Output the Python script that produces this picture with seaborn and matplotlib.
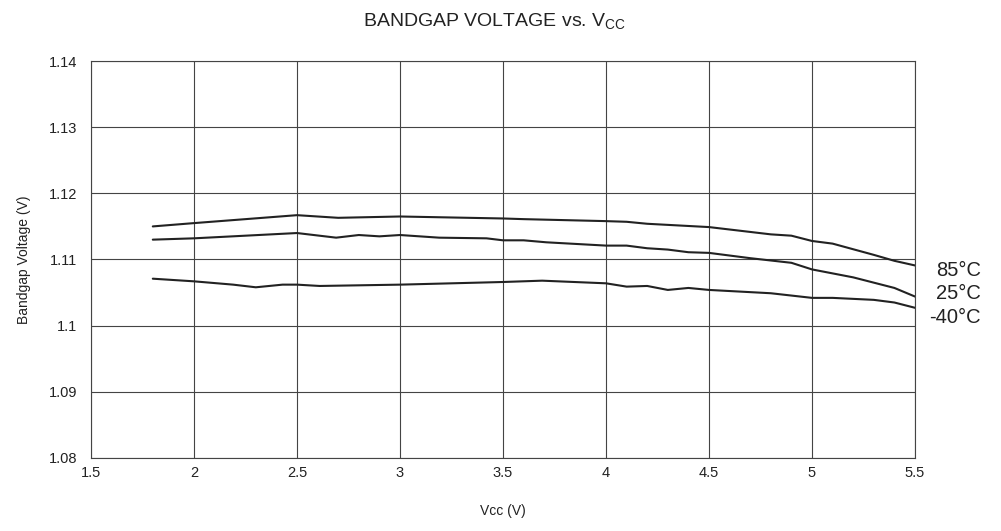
import matplotlib
matplotlib.use('Agg')
import matplotlib.pyplot as plt
import seaborn as sns
import pandas as pd

# readings taken off the reference chart
vcc_85 = [1.8, 2.0, 2.5, 2.7, 3.0, 3.5, 3.6, 4.0, 4.1, 4.2, 4.5, 4.8, 4.9, 5.0, 5.1, 5.3, 5.4, 5.5]
v_85 = [1.1150, 1.1155, 1.1167, 1.1163, 1.1165, 1.1162, 1.1161, 1.1158, 1.1157, 1.1154,
        1.1149, 1.1138, 1.1136, 1.1128, 1.1124, 1.1107, 1.1098, 1.1091]

vcc_25 = [1.8, 2.0, 2.5, 2.69, 2.8, 2.9, 3.0, 3.19, 3.42, 3.5, 3.6, 3.71, 4.0, 4.1, 4.2,
          4.3, 4.4, 4.5, 4.7, 4.9, 5.0, 5.2, 5.4, 5.5]
v_25 = [1.1130, 1.1132, 1.1140, 1.1133, 1.1137, 1.1135, 1.1137, 1.1133, 1.1132, 1.1129,
        1.1129, 1.1126, 1.1121, 1.1121, 1.1117, 1.1115, 1.1111, 1.1110, 1.1102, 1.1095,
        1.1085, 1.1073, 1.1057, 1.1044]

vcc_m40 = [1.8, 2.0, 2.19, 2.3, 2.43, 2.5, 2.61, 3.0, 3.5, 3.69, 4.0, 4.1, 4.2, 4.3, 4.4,
           4.5, 4.8, 5.0, 5.1, 5.3, 5.4, 5.5]
v_m40 = [1.1071, 1.1067, 1.1062, 1.1058, 1.1062, 1.1062, 1.1060, 1.1062, 1.1066, 1.1068,
         1.1064, 1.1059, 1.1060, 1.1054, 1.1057, 1.1054, 1.1049, 1.1042, 1.1042, 1.1039,
         1.1035, 1.1027]

temps = ['85°C', '25°C', '-40°C']
x_ticks = [1.5, 2, 2.5, 3, 3.5, 4, 4.5, 5, 5.5]
y_ticks = [1.08, 1.09, 1.1, 1.11, 1.12, 1.13, 1.14]
y_labels = ['1.08', '1.09', '1.1', '1.11', '1.12', '1.13', '1.14']

df = pd.concat([
    pd.DataFrame({'vcc': vcc_85, 'v': v_85, 'temp': temps[0]}),
    pd.DataFrame({'vcc': vcc_25, 'v': v_25, 'temp': temps[1]}),
    pd.DataFrame({'vcc': vcc_m40, 'v': v_m40, 'temp': temps[2]}),
])

sns.set_style('white')
plt.rcParams['font.family'] = ['Liberation Sans', 'DejaVu Sans']
plt.rcParams['mathtext.fontset'] = 'custom'
plt.rcParams['mathtext.rm'] = 'Liberation Sans'

fig = plt.figure(figsize=(10.01, 5.31), dpi=100)
ax = fig.add_axes([0.0909, 0.1375, 0.8232, 0.7476])

sns.lineplot(data=df, x='vcc', y='v', units='temp', estimator=None,
             color='#222222', linewidth=1.5, sort=False, ax=ax, legend=False)

ax.set_xlim(1.5, 5.5)
ax.set_ylim(1.08, 1.14)
ax.set_xticks(x_ticks)
ax.set_xticklabels([f'{t:g}' for t in x_ticks])
ax.set_yticks(y_ticks)
ax.set_yticklabels(y_labels)
ax.grid(True, color='#444444', linewidth=0.8)
for s in ax.spines.values():
    s.set_color('#444444')
    s.set_linewidth(0.8)
ax.tick_params(labelsize=10.5, colors='#222222', length=0)
ax.tick_params(axis='x', pad=6)
ax.tick_params(axis='y', pad=10)

ax.set_xlabel('Vcc (V)', fontsize=10, color='#222222', labelpad=17)
ax.set_ylabel('Bandgap Voltage (V)', fontsize=10, color='#222222', labelpad=13)
fig.text(0.494, 0.96, r'BANDGAP VOLTAGE vs. V$\mathregular{_{CC}}$',
         ha='center', va='center', fontsize=14, color='#222222')

# curve labels at the right
for lab, yy in zip(temps, [0.49, 0.447, 0.403]):
    fig.text(0.98, yy, lab, ha='right', va='center', fontsize=14.5, color='#222222')

fig.savefig('out.png', dpi=100)
